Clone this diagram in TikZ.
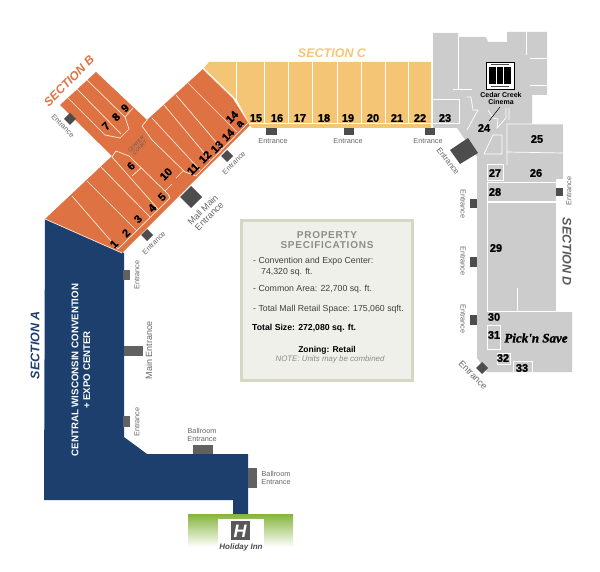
\documentclass[tikz,border=0pt]{standalone}
\usepackage{fontspec}
\setmainfont{Liberation Sans}
\newfontfamily\unitfont[BoldFeatures={FakeBold=1.2}]{Liberation Sans}
\newfontfamily\storefont[BoldItalicFeatures={FakeBold=1.5}]{Liberation Serif}
\usepackage{tikz}
\definecolor{wingorange}{HTML}{DE7242}
\definecolor{wingyellow}{HTML}{F5C576}
\definecolor{wingblue}{HTML}{1C3F6E}
\definecolor{winggray}{HTML}{CCCCCC}
\definecolor{doorgray}{HTML}{4D4D4D}
\definecolor{boxfill}{HTML}{F0F0EA}
\definecolor{boxline}{HTML}{D5D7C3}
\definecolor{inngreen}{HTML}{85B43B}
\newcommand{\pxfont}[1]{\fontsize{#1}{#1}\selectfont}
\tikzset{
  unitline/.style={draw=white,line width=.7pt},
  orangeline/.style={draw=orange!15!white,line width=.7pt},
  door/.style={fill=doorgray},
  doorlabel/.style={text=black!60,font=\pxfont{7.3},align=center,inner sep=0pt},
  biglabel/.style={text=black!60,font=\pxfont{9},align=center,inner sep=0pt},
  unitno/.style={font=\unitfont\bfseries\pxfont{11},inner sep=0pt},
  speclabel/.style={font=\pxfont{8.75},text=black!75,anchor=west,inner sep=0pt},
  sectionlabel/.style={font=\bfseries\itshape\pxfont{12.5},inner sep=0pt}
}
\begin{document}
\begin{tikzpicture}[x=1pt,y=-1pt]
\useasboundingbox (0,0) rectangle (600,572);
% section A
\fill[wingblue] (45,219) -- (124,253) -- (124,437) -- (147,454) -- (248,454) -- (248,514)
    -- (233,514) -- (233,500) -- (44,500) -- cycle;
% holiday inn
\shade[top color=inngreen,bottom color=white] (188,514) rectangle (293,547);
\fill[white] (218,519) rectangle (264,552);
\fill[black!65] (231,521) rectangle (250,540);
\node[text=white,font=\bfseries\itshape\pxfont{18},inner sep=0pt] (innlogo) at (240,531) {H};
\node[text=black!70,font=\bfseries\itshape\pxfont{8},inner sep=0pt] (innname) at (241,547) {Holiday Inn};
% section D
\fill[winggray] (433,33) -- (458,33) -- (458,37) -- (486,37) -- (488,42) -- (507,42) -- (507,32)
    -- (547,32) -- (547,95) -- (532,95) -- (532,124) -- (563,124) -- (563,179) -- (556,179)
    -- (556,311) -- (572,311) -- (572,372) -- (487,372) -- (477,358) -- (477,157) -- (457,128)
    -- (433,128) -- cycle;
\draw[unitline] (458,37) -- (458,89) (453,89) -- (472,89);
\draw[unitline] (433,99) -- (459,99) -- (459,123) -- (433,123);
\draw[unitline] (526,32) -- (526,55) (530,58) -- (547,58) (530,85) -- (547,85);
\draw[unitline] (467,97) -- (471,97) -- (473,110) -- (478,110) -- (467,130);
\draw[unitline] (488,110) -- (493,118) -- (498,119) -- (497,128) -- (506,118) -- (506,108) (509,108) -- (509,120);
\draw[unitline] (507,123) -- (507,165) (508,124) -- (563,124) (507,152) -- (563,153);
\draw[unitline] (484,154) -- (493,135) -- (502,135) -- (502,154) -- cycle;
\draw[unitline] (487,164) rectangle (503,180);
\draw[unitline] (487,182) rectangle (556,201);
\draw[unitline] (487,202) rectangle (556,311);
\draw[unitline] (517,288) -- (517,311) (556,311) -- (572,311);
\draw[unitline] (487,325) rectangle (500,349);
\draw[unitline] (497,353) rectangle (510,364);
\draw[unitline] (513,372) |- (532,361) -- (532,372);
% cinema
\draw[black,fill=white,line width=.6pt] (486,62) rectangle (514,89);
\fill[black] (489,67) rectangle (511,84);
\foreach \x in {496.5,503.5}
    \draw[white,line width=.8pt] (\x,67) -- (\x,84);
\draw[black!70,line width=.8pt] (491,64.5) -- (509,64.5) (491,86.5) -- (509,86.5);
\node[font=\bfseries\pxfont{7},align=center,inner sep=0pt] (cinema) at (501,99) {Cedar Creek\\Cinema};
\draw[black,line width=.5pt] (500,107) -- (489,121);
% section C
\fill[wingyellow] (209,62) -- (431,62) -- (431,128) -- (252,128) -- (250,125) -- (237,100) -- (204,68) -- cycle;
\foreach \x in {236,264,288,312,337,361,385,408}
    \draw[unitline] (\x,62) -- (\x,123);
\draw[unitline] (250,123) -- (431,123);
% section B and the long wing
\fill[wingorange] (45,219) -- (112,156) -- (60,105) -- (96,72) -- (147,120) -- (203,69)
    -- (233,98) -- (250,125) -- (122,253) -- cycle;
\draw[orangeline] (45,219) -- (122,253);
\draw[orangeline] (203,69) -- (233,98) -- (250,125);
\draw[orangeline] (72,196) -- (118,249) (87,181) -- (137,231) (101,167) -- (150,217);
\draw[orangeline] (112,157) -- (158,209) (112,157) -- (116,151) -- (129,156) -- (168,194) -- (170,198);
\draw[orangeline] (165,191) -- (172,184) (132,176) -- (141,168);
\draw[orangeline] (147,120) -- (142,126) -- (152,140) -- (185,172) -- (196,176) (183,171) -- (176,178);
\draw[orangeline] (152,118) -- (200,170) (164,105) -- (210,160) (176,95) -- (222,149) (188,83) -- (237,132);
\draw[orangeline] (118,249) -- (170,198) (196,176) -- (248,123);
\draw[orangeline] (67,97) -- (105,135) -- (120,138) -- (129,129) -- (125,117) -- (133,108);
\draw[orangeline] (77,89) -- (121,134) (87,80) -- (125,117);
\node[text=black!65,font=\itshape\pxfont{5},align=center,rotate=45,inner sep=0pt] (court) at (138,146) {CENTER\\COURT};
% unit numbers
\foreach \n/\x/\y in {1/114/244,2/126/233,3/138/219,4/152/208,5/162/197,6/131/166,7/106/126,8/116/117,9/125/108,10/166/174,11/193/169,12/205/157,13/217/147,14/228/135}
    \node[unitno,rotate=45] (unit\n) at (\x,\y) {\n};
\node[unitno,rotate=45] (unitfour) at (232,117) {14};
\node[unitno,rotate=45] (unita) at (240,124) {a};
\foreach \n/\x/\y in {15/256/118,16/277/118,17/300/118,18/324/118,19/348/118,20/373/118,21/397/118,22/420/118,23/445/118,24/484/128,25/537/139,26/536/173,27/495/173,28/495/192,29/496/248,30/494/317,31/494/335,32/503/358,33/522/368}
    \node[unitno] (unit\n) at (\x,\y) {\n};
% doors
\foreach \xa/\ya/\xb/\yb in {266/128/277/135,344/128/354/135,425/128/435/135,556/188/563/196,470/199/477/208,470/257/477/267,470/315/477/325}
    \fill[door] (\xa,\ya) rectangle (\xb,\yb);
\foreach \xa/\ya/\xb/\yb in {123/270/130/280,124/346/143/356,123/416/130/427,193/445/213/454,248/468/257/488}
    \fill[black!62] (\xa,\ya) rectangle (\xb,\yb);
\foreach \x/\y in {70/119,147/235,227/156,482/368}
    \fill[door] (\x-6,\y) -- (\x,\y-6) -- (\x+6,\y) -- (\x,\y+6) -- cycle;
\fill[door] (191,186) -- (202,197) -- (191,208) -- (180,197) -- cycle;
\fill[door] (450,150) -- (468,138) -- (478,153) -- (460,164) -- cycle;
% entrance labels
\foreach \x/\y in {273/141,348/141,428/141}
    \node[doorlabel] at (\x,\y) {Entrance};
\foreach \x/\y in {137/275,137/422,569/191}
    \node[doorlabel,rotate=90] at (\x,\y) {Entrance};
\foreach \x/\y in {463/204,463/261,463/319}
    \node[doorlabel,rotate=-90] at (\x,\y) {Entrance};
\foreach \x/\y in {154/243,234/163}
    \node[doorlabel,rotate=45] at (\x,\y) {Entrance};
\node[doorlabel,rotate=-45] at (63,126) {Entrance};
\node[doorlabel,rotate=-52,font=\pxfont{8}] at (448,161) {Entrance};
\node[biglabel,rotate=-45] at (473,375) {Entrance};
\node[biglabel,rotate=45] at (206,213) {Mall Main\\Entrance};
\node[biglabel,rotate=90] at (149,350) {Main Entrance};
\node[doorlabel] at (202,435) {Ballroom\\Entrance};
\node[doorlabel] at (276,478) {Ballroom\\Entrance};
% section titles
\node[sectionlabel,text=wingorange,rotate=45,font=\bfseries\itshape\pxfont{12}] (secb) at (69,81) {SECTION B};
\node[sectionlabel,text=wingyellow] (secc) at (332,53) {SECTION C};
\node[sectionlabel,text=black!65,rotate=-90] (secd) at (567,252) {SECTION D};
\node[sectionlabel,text=wingblue,rotate=90] (seca) at (35,345) {SECTION A};
\node[text=white,font=\bfseries\pxfont{9.7},align=center,rotate=90,inner sep=0pt] (hall) at (81,370) {CENTRAL WISCONSIN CONVENTION\\[2pt]+ EXPO CENTER};
\node[font=\storefont\bfseries\itshape\pxfont{13},inner sep=0pt] (store) at (536,338) {Pick'n Save};
% property box
\draw[draw=boxline,fill=boxfill,line width=3pt] (241.5,220.5) rectangle (412.5,380.5);
\node[text=black!45,font=\bfseries\fontsize{10}{9.5}\selectfont\addfontfeature{LetterSpace=7.5},align=center,inner sep=0pt] (spectitle) at (327,240) {PROPERTY\\SPECIFICATIONS};
\node[speclabel] (specone) at (253,261) {- Convention and Expo Center:};
\node[speclabel] (speconeb) at (261,272) {74,320 sq. ft.};
\node[speclabel] (spectwo) at (253,289) {- Common Area: 22,700 sq. ft.};
\node[speclabel] (specthree) at (253,309) {- Total Mall Retail Space: 175,060 sqft.};
\node[speclabel,text=black,font=\bfseries\pxfont{8.7}] (specsize) at (252,328) {Total Size: 272,080 sq. ft.};
\node[text=black,font=\bfseries\pxfont{8.5},inner sep=0pt] (speczone) at (327,350) {Zoning: Retail};
\node[text=black!45,font=\itshape\pxfont{7.9},inner sep=0pt] (specnote) at (330,359) {NOTE: Units may be combined};
\end{tikzpicture}
\end{document}
